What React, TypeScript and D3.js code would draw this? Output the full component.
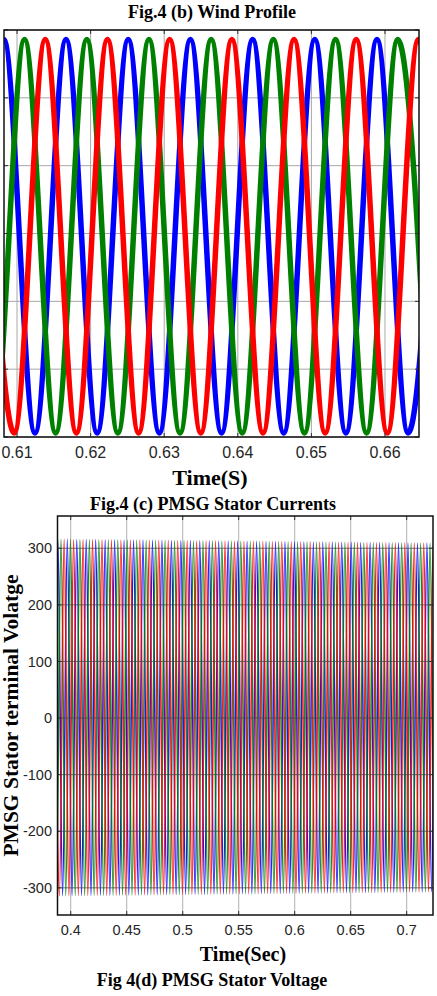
import * as d3 from "d3"

// ---- Fig.4 (b) panel: three phase currents, crest / trough times (s)
const iXTicks = [0.61, 0.62, 0.63, 0.64, 0.65, 0.66]
const iYGrid = [-15, -10, -5, 0, 5, 10, 15]
const iCrestVal = 14.3
const iTroughVal = -14.7

const iBlueCrest = [0.60821, 0.61666, 0.62511, 0.63356, 0.64201, 0.65046, 0.65891, 0.66736]
const iBlueTrough = [0.60398, 0.61244, 0.62089, 0.62934, 0.63779, 0.64624, 0.65469, 0.66314]
const iGreenCrest = [0.60257, 0.61102, 0.61948, 0.62793, 0.63638, 0.64483, 0.65328, 0.66173]
const iGreenTrough = [0.6068, 0.61525, 0.6237, 0.63215, 0.6406, 0.64905, 0.6575, 0.66595]
const iRedCrest = [0.60539, 0.61384, 0.62229, 0.63074, 0.63919, 0.64764, 0.65609, 0.66454]
const iRedTrough = [0.60962, 0.61807, 0.62652, 0.63497, 0.64342, 0.65187, 0.66032, 0.66877]

// ---- Fig 4(d) panel: stator voltage, phase a crest / trough times (s)
const vXTicks = [0.4, 0.45, 0.5, 0.55, 0.6, 0.65, 0.7]
const vYTicks = [-300, -200, -100, 0, 100, 200, 300]
const vCrestT = [
  0.38006, 0.38851, 0.39696, 0.40541, 0.41386, 0.42231, 0.43076, 0.43921, 0.44766, 0.45611,
  0.46456, 0.47301, 0.48146, 0.48991, 0.49836, 0.50681, 0.51526, 0.52371, 0.53216, 0.54061,
  0.54906, 0.55751, 0.56596, 0.57441, 0.58286, 0.59131, 0.59976, 0.60821, 0.61666, 0.62511,
  0.63356, 0.64201, 0.65046, 0.65891, 0.66736, 0.67581, 0.68426, 0.69271, 0.70116, 0.70961,
  0.71806, 0.72651,
]
const vTroughT = [
  0.38429, 0.39274, 0.40119, 0.40964, 0.41809, 0.42654, 0.43499, 0.44344, 0.45189, 0.46034,
  0.46879, 0.47724, 0.48569, 0.49414, 0.50259, 0.51104, 0.51949, 0.52794, 0.53639, 0.54484,
  0.55329, 0.56174, 0.57019, 0.57864, 0.58709, 0.59554, 0.60399, 0.61244, 0.62089, 0.62934,
  0.63779, 0.64624, 0.65469, 0.66314, 0.67159, 0.68004, 0.68849, 0.69694, 0.70539, 0.71384,
  0.72229, 0.73074,
]
const vPhaseLag = [0, 0.00282, 0.00563] // blue, green, red
const vEnvT = [0.388, 0.7235]
const vEnvHi = [316, 309]
const vEnvLo = [-314, -307]

const colors = ["#0000ff", "#008000", "#ff0000"]
const serif = "'Liberation Serif', 'Times New Roman', serif"
const sans = "'Liberation Sans', Arial, sans-serif"

type Pt = [number, number]

function merge(crest: number[], trough: number[], hi: (t: number) => number, lo: (t: number) => number): Pt[] {
  const pts: Pt[] = crest.map((t) => [t, hi(t)] as Pt).concat(trough.map((t) => [t, lo(t)] as Pt))
  return pts.sort((a, b) => a[0] - b[0])
}

export default function App() {
  // top panel
  const ix = d3.scaleLinear().domain([0.60823, 0.66462]).range([4, 419])
  const iy = d3.scaleLinear().domain([-15, 15]).range([437, 30])
  const iLine = d3
    .line<Pt>()
    .x((d) => ix(d[0]))
    .y((d) => iy(d[1]))
    .curve(d3.curveMonotoneX)
  const iSeries = [
    merge(iBlueCrest, iBlueTrough, () => iCrestVal, () => iTroughVal),
    merge(iGreenCrest, iGreenTrough, () => iCrestVal, () => iTroughVal),
    merge(iRedCrest, iRedTrough, () => iCrestVal, () => iTroughVal),
  ]

  // bottom panel
  const vx = d3.scaleLinear().domain([0.3882, 0.7235]).range([57.5, 433])
  const vy = d3.scaleLinear().domain([-348, 357]).range([915, 516])
  const envHi = d3.scaleLinear().domain(vEnvT).range(vEnvHi)
  const envLo = d3.scaleLinear().domain(vEnvT).range(vEnvLo)
  const vLine = d3
    .line<Pt>()
    .x((d) => vx(d[0]))
    .y((d) => vy(d[1]))
    .curve(d3.curveMonotoneX)
  const vSeries = vPhaseLag.map((lag) =>
    merge(
      vCrestT.map((t) => t + lag),
      vTroughT.map((t) => t + lag),
      (t) => envHi(t),
      (t) => envLo(t)
    )
  )

  const [il, ir] = ix.range()
  const [ib, it] = iy.range()
  const [vl, vr] = vx.range()
  const [vb, vt] = vy.range()

  return (
    <svg width={437} height={996} style={{ position: "absolute", left: 0, top: 0, background: "#fff" }}>
      <defs>
        <clipPath id="clip-i">
          <rect x={il} y={it} width={ir - il} height={ib - it} />
        </clipPath>
        <clipPath id="clip-v">
          <rect x={vl} y={vt} width={vr - vl} height={vb - vt} />
        </clipPath>
      </defs>

      <text x={212} y={18} textAnchor="middle" fontFamily={serif} fontWeight="bold" fontSize={18}>
        Fig.4 (b) Wind Profile
      </text>

      {/* top panel grid */}
      <g stroke="#a8a8a8" strokeWidth={1}>
        {iXTicks.map((t) => (
          <line key={t} x1={ix(t)} x2={ix(t)} y1={it} y2={ib} />
        ))}
        {iYGrid.map((v) => (
          <line key={v} x1={il} x2={ir} y1={iy(v)} y2={iy(v)} />
        ))}
      </g>
      <g clipPath="url(#clip-i)" fill="none" strokeWidth={5.5} strokeLinejoin="round">
        {iSeries.map((s, i) => (
          <path key={i} d={iLine(s) ?? ""} stroke={colors[i]} />
        ))}
      </g>
      <g stroke="#333" strokeWidth={1}>
        {iXTicks.map((t) => (
          <g key={t}>
            <line x1={ix(t)} x2={ix(t)} y1={it} y2={it + 4} />
            <line x1={ix(t)} x2={ix(t)} y1={ib} y2={ib - 4} />
          </g>
        ))}
        {iYGrid.map((v) => (
          <g key={v}>
            <line x1={il} x2={il + 4} y1={iy(v)} y2={iy(v)} />
            <line x1={ir} x2={ir - 4} y1={iy(v)} y2={iy(v)} />
          </g>
        ))}
      </g>
      <rect x={il} y={it} width={ir - il} height={ib - it} fill="none" stroke="#111" strokeWidth={1.5} />
      <g fontFamily={sans} fontSize={16} fill="#262626" textAnchor="middle">
        {iXTicks.map((t) => (
          <text key={t} x={ix(t)} y={458}>
            {t.toFixed(2)}
          </text>
        ))}
      </g>
      <text x={210} y={485} textAnchor="middle" fontFamily={serif} fontWeight="bold" fontSize={22}>
        Time(S)
      </text>
      <text x={213} y={510} textAnchor="middle" fontFamily={serif} fontWeight="bold" fontSize={18}>
        Fig.4 (c) PMSG Stator Currents
      </text>

      {/* bottom panel */}
      <g stroke="#b0b0b0" strokeWidth={1}>
        {vXTicks.map((t) => (
          <line key={t} x1={vx(t)} x2={vx(t)} y1={vt} y2={vb} />
        ))}
      </g>
      <g clipPath="url(#clip-v)" fill="none" strokeWidth={1.5} strokeOpacity={0.9}>
        {vSeries.map((s, i) => (
          <path key={i} d={vLine(s) ?? ""} stroke={colors[i]} />
        ))}
      </g>
      <g stroke="#444" strokeWidth={1} strokeOpacity={0.75}>
        {vYTicks.map((v) => (
          <line key={v} x1={vl} x2={vr} y1={vy(v)} y2={vy(v)} />
        ))}
      </g>
      <g stroke="#333" strokeWidth={1}>
        {vXTicks.map((t) => (
          <g key={t}>
            <line x1={vx(t)} x2={vx(t)} y1={vt} y2={vt + 4} />
            <line x1={vx(t)} x2={vx(t)} y1={vb} y2={vb - 4} />
          </g>
        ))}
        {vYTicks.map((v) => (
          <g key={v}>
            <line x1={vl} x2={vl + 4} y1={vy(v)} y2={vy(v)} />
            <line x1={vr} x2={vr - 4} y1={vy(v)} y2={vy(v)} />
          </g>
        ))}
      </g>
      <rect x={vl} y={vt} width={vr - vl} height={vb - vt} fill="none" stroke="#111" strokeWidth={1.5} />
      <g fontFamily={sans} fontSize={14.5} fill="#262626">
        {vXTicks.map((t) => (
          <text key={t} x={vx(t)} y={935} textAnchor="middle">
            {String(t)}
          </text>
        ))}
        {vYTicks.map((v) => (
          <text key={v} x={52} y={vy(v)} dy="0.35em" textAnchor="end">
            {String(v)}
          </text>
        ))}
      </g>
      <text
        transform={`translate(18, ${(vt + vb) / 2}) rotate(-90)`}
        textAnchor="middle"
        fontFamily={serif}
        fontWeight="bold"
        fontSize={21.5}
      >
        PMSG Stator terminal Volatge
      </text>
      <text x={243} y={961} textAnchor="middle" fontFamily={serif} fontWeight="bold" fontSize={20}>
        Time(Sec)
      </text>
      <text x={212} y={986} textAnchor="middle" fontFamily={serif} fontWeight="bold" fontSize={18}>
        Fig 4(d) PMSG Stator Voltage
      </text>
    </svg>
  )
}
